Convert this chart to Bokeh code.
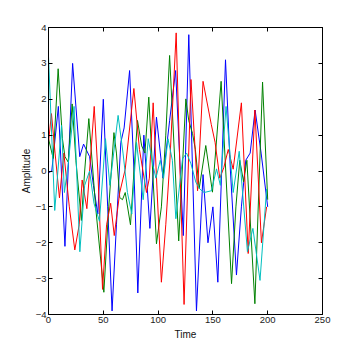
from bokeh.plotting import figure
from bokeh.models import Range1d, LinearAxis, FixedTicker
from bokeh.embed import file_html
from bokeh.resources import INLINE

# ---- data ----
blue_t = [0, 3, 9, 15, 22, 28.5, 32, 37.5, 41, 45, 50, 54, 58, 62, 66, 69, 74, 78, 81.5, 87, 92.5, 98.5,
          104.5, 110.5, 116, 123, 128, 135, 141, 145.5, 150, 154.5, 161.5, 166, 171.5, 176, 180, 184, 188.5, 194, 200]
blue_v = [-0.05, 0.0, 1.8, -2.1, 3.0, 0.4, 0.75, 0.4, -0.4, -1.2, 2.0, -1.0, -3.9, -1.5, 0.8, 1.2, 2.8, 0.0, -3.4,
          1.0, -1.6, 1.5, -0.2, 1.4, 2.8, -1.8, 3.8, -3.9, -0.1, -2.0, -1.0, -3.1, 3.1, 0.0, -2.9, -1.0, 0.3, 0.5,
          1.7, 0.5, -1.0]

green_t = [0, 4.3, 8.8, 12.7, 15, 18, 21.6, 25, 30, 33, 36.8, 43, 50.5, 55, 59.7, 62, 65, 67.5, 70, 74.8, 78,
           81.2, 85, 88, 91.5, 98.5, 103, 107, 110.5, 118.8, 125.3, 128, 131.4, 134, 137.5, 143.5, 149.6, 157.5,
           167, 171, 174.5, 178, 181, 188.3, 195.3, 200]
green_v = [0.9, 0.35, 2.85, 0.9, 0.4, 0.25, 1.87, 0.3, -1.38, 0.0, 1.46, -1.0, -3.38, -1.0, 1.07, 0.5, -0.74,
           -0.8, -0.6, -1.5, 0.0, 1.41, 0.7, 0.5, 2.06, -2.03, -1.0, 1.0, 3.22, -1.95, 2.01, 1.4, 1.05, 0.6, -0.49,
           0.71, -0.59, 2.5, -3.14, -1.0, 0.3, -0.3, 0.3, -3.7, 2.48, -0.8]

red_t = [0, 2.7, 6, 10, 14, 19, 24, 28, 30.7, 35, 41.7, 45, 49.3, 53, 56.7, 60, 65, 70, 77.9, 83, 89.4, 92,
         95.5, 99, 103, 107, 110.7, 116.5, 120, 123.7, 130, 133, 136, 141, 148.5, 152, 156.3, 160, 164, 168.5,
         176, 182.2, 188.3, 194.3, 199]
red_v = [0.8, 1.6, 0.5, -0.75, 0.5, -1.0, -2.2, -1.5, -0.25, -1.05, 1.8, 0.0, -3.3, -1.5, -0.9, -1.8, -0.6,
         0.05, 2.3, 0.6, -0.6, -0.2, 1.9, -0.5, -3.1, -1.5, 0.25, 3.85, 0.0, -3.72, 2.55, 1.0, -0.55, 2.5, 1.3,
         0.8, -0.2, 0.1, 0.6, 0.05, 1.9, -2.3, 1.7, -2.0, -1.0]

cyan_t = [0, 5.7, 11.9, 14.5, 18, 23.3, 28.6, 33, 37.5, 41.5, 46.5, 52, 56, 63.5, 68, 72, 76, 80.3, 86.4, 91,
          95, 98, 102, 105, 109, 113, 116.2, 122.3, 126, 130, 134.4, 138, 142, 148.7, 153.3, 156.8, 162, 168.5,
          174, 181.5, 186.5, 193, 199]
cyan_v = [3.2, -1.1, 1.27, -0.6, 0.2, 1.8, -2.25, -0.4, 0.0, -0.9, -1.4, 0.9, -0.4, 1.55, 0.5, -0.6, -1.2, 0.8,
          -0.8, 0.9, 0.2, -0.2, 0.3, -0.2, 0.9, 0.3, -1.33, 0.34, 0.5, 0.2, -0.31, -0.5, -0.6, -0.55, 0.06, -0.4,
          1.8, -0.6, 0.55, -2.25, -1.6, -3.05, -0.5]

x_ticks = [0, 50, 100, 150, 200, 250]
y_ticks = [-4, -3, -2, -1, 0, 1, 2, 3, 4]

FONT = "Liberation Sans"

p = figure(width=345, height=345, output_backend="svg", toolbar_location=None,
           x_range=Range1d(0, 250), y_range=Range1d(-4, 4),
           min_border_left=48, min_border_right=23, min_border_top=27, min_border_bottom=31,
           x_axis_label="Time", y_axis_label="Amplitude")
p.background_fill_color = "white"
p.border_fill_color = "white"
p.grid.visible = False
p.outline_line_color = "black"
p.outline_line_width = 1

for ax, ticks in ((p.xaxis[0], x_ticks), (p.yaxis[0], y_ticks)):
    ax.ticker = FixedTicker(ticks=ticks)
    ax.major_tick_in = 4
    ax.major_tick_out = 0
    ax.minor_tick_in = 0
    ax.minor_tick_out = 0
    ax.axis_line_color = "black"
    ax.major_label_text_font = FONT
    ax.major_label_text_font_size = "9.5px"
    ax.major_label_text_color = "#222222"
    ax.major_label_standoff = 2
    ax.axis_label_text_font = FONT
    ax.axis_label_text_font_size = "10px"
    ax.axis_label_text_font_style = "normal"
    ax.axis_label_text_color = "#111111"
p.xaxis[0].axis_label_standoff = 3
p.yaxis[0].axis_label_standoff = 1

right = LinearAxis(ticker=FixedTicker(ticks=y_ticks), major_tick_in=4, major_tick_out=0,
                   minor_tick_in=0, minor_tick_out=0, major_label_text_alpha=0,
                   major_label_text_font_size="1px")
top = LinearAxis(ticker=FixedTicker(ticks=x_ticks), major_tick_in=4, major_tick_out=0,
                 minor_tick_in=0, minor_tick_out=0, major_label_text_alpha=0,
                 major_label_text_font_size="1px")
p.add_layout(right, "right")
p.add_layout(top, "above")

p.line(blue_t, blue_v, line_color="#0000ff", line_width=1)
p.line(green_t, green_v, line_color="#008000", line_width=1)
p.line(red_t, red_v, line_color="#ff0000", line_width=1)
p.line(cyan_t, cyan_v, line_color="#00bfbf", line_width=1)

open("out.html", "w").write(file_html(p, INLINE))
